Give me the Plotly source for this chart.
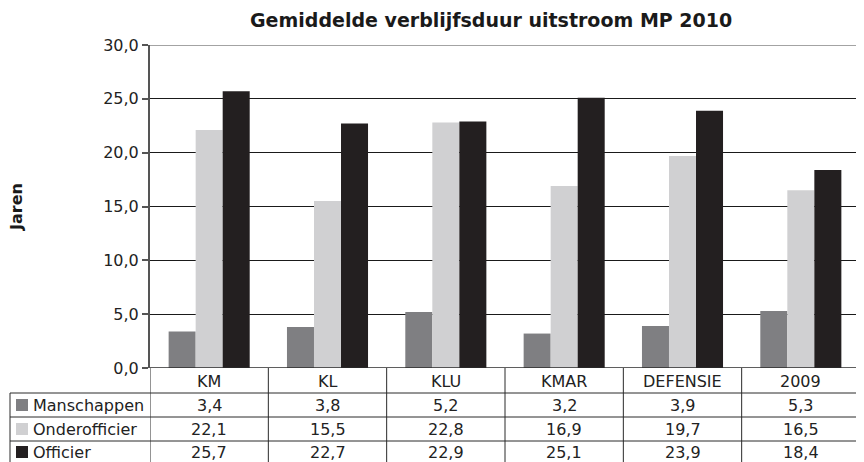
import plotly.graph_objects as go

categories = ["KM", "KL", "KLU", "KMAR", "DEFENSIE", "2009"]
series_names = ["Manschappen", "Onderofficier", "Officier"]
manschappen = [3.4, 3.8, 5.2, 3.2, 3.9, 5.3]
onderofficier = [22.1, 15.5, 22.8, 16.9, 19.7, 16.5]
officier = [25.7, 22.7, 22.9, 25.1, 23.9, 18.4]
colors = ["#7f7f82", "#d0d0d2", "#231f20"]
title = "Gemiddelde verblijfsduur uitstroom MP 2010"
y_title = "Jaren"

OFF = 8  # page body margin
W, H = 864 - OFF, 462 - OFF
def px(x): return (x - OFF) / W
def py(y): return 1 - (y - OFF) / H

plot_left, plot_right, plot_top, plot_bottom = 150, 860, 45, 368
table_left = 10
row_lines = [393, 417, 441]
row_centers = [405, 429, 452]
header_center = 381

fig = go.Figure()
for name, vals, c in zip(series_names, [manschappen, onderofficier, officier], colors):
    fig.add_trace(go.Bar(x=categories, y=vals, name=name, marker=dict(color=c, line=dict(width=0)),
                         showlegend=False))

font = "DejaVu Sans, Verdana, sans-serif"
shapes = []
annotations = []
line_c = "#2a2a2a"
# plot frame top and right (gray)
shapes.append(dict(type="line", xref="paper", yref="y", x0=px(plot_left), x1=px(plot_right) + 0.001, y0=30, y1=30,
                   line=dict(color="#a3a3a3", width=2)))
shapes.append(dict(type="line", xref="x", yref="paper", x0=5.5, x1=5.5, y0=py(plot_bottom), y1=py(plot_top),
                   line=dict(color="#a3a3a3", width=2)))
# table lines
for ry in row_lines:
    shapes.append(dict(type="line", xref="paper", yref="paper", x0=px(table_left), x1=px(plot_right),
                       y0=py(ry), y1=py(ry), line=dict(color=line_c, width=1)))
shapes.append(dict(type="line", xref="paper", yref="paper", x0=px(table_left), x1=px(table_left),
                   y0=py(row_lines[0]), y1=0, line=dict(color=line_c, width=1)))
for i in range(len(categories) + 1):
    shapes.append(dict(type="line", xref="x", yref="paper", x0=i - 0.5, x1=i - 0.5,
                       y0=py(plot_bottom), y1=0, line=dict(color=line_c, width=1)))
# bottom line at 0
shapes.append(dict(type="line", xref="paper", yref="y", x0=px(plot_left), x1=px(plot_right), y0=0, y1=0,
                   line=dict(color=line_c, width=1.5)))

tf = dict(family=font, size=16, color="#222")
for i, cat in enumerate(categories):
    annotations.append(dict(x=i, xref="x", y=py(header_center), yref="paper", text=cat, showarrow=False,
                            font=tf, xanchor="center", yanchor="middle"))
for r, (name, vals, c) in enumerate(zip(series_names, [manschappen, onderofficier, officier], colors)):
    yc = row_centers[r]
    shapes.append(dict(type="rect", xref="paper", yref="paper", x0=px(16), x1=px(28),
                       y0=py(yc + 6), y1=py(yc - 6), fillcolor=c, line=dict(width=0)))
    annotations.append(dict(x=px(31), xref="paper", y=py(yc), yref="paper", text=name, showarrow=False,
                            font=tf, xanchor="left", yanchor="middle"))
    for i, v in enumerate(vals):
        annotations.append(dict(x=i, xref="x", y=py(yc), yref="paper",
                                text=f"{v:.1f}".replace(".", ","), showarrow=False,
                                font=tf, xanchor="center", yanchor="middle"))

annotations.append(dict(x=px(491), y=py(20), xref="paper", yref="paper", text="<b>" + title + "</b>",
                        showarrow=False, font=dict(family=font, size=19, color="#1a1a1a"),
                        xanchor="center", yanchor="middle"))
annotations.append(dict(x=px(17), y=py(207), xref="paper", yref="paper", text="<b>" + y_title + "</b>",
                        showarrow=False, textangle=-90, font=dict(family=font, size=16, color="#1a1a1a"),
                        xanchor="center", yanchor="middle"))

fig.update_layout(
    width=W, height=H, margin=dict(l=0, r=0, t=0, b=0, pad=0, autoexpand=False),
    paper_bgcolor="white", plot_bgcolor="white",
    separators=", ",
    barmode="group", bargap=0.315, bargroupgap=0,
    xaxis=dict(type="category", domain=[px(plot_left), px(plot_right)], range=[-0.5, 5.5], showticklabels=False,
               showgrid=False, zeroline=False, ticks="", showline=False, automargin=False),
    yaxis=dict(domain=[py(plot_bottom), py(plot_top)], range=[0, 30], dtick=5, tickformat=".1f",
               showgrid=True, gridcolor="#1a1a1a", gridwidth=1, zeroline=False, automargin=False,
               showline=True, linecolor="#555", linewidth=2, ticks="outside", ticklen=6,
               tickcolor="#555", tickwidth=1.5,
               tickfont=dict(family=font, size=16, color="#222")),
    shapes=shapes, annotations=annotations,
)
fig.write_html("out.html")
